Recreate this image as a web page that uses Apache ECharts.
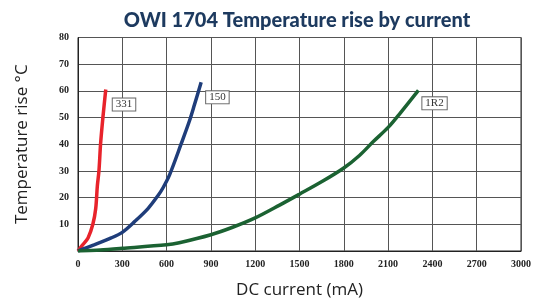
<!DOCTYPE html>
<html>
<head>
<meta charset="utf-8">
<script src="https://cdn.jsdelivr.net/npm/echarts@6/dist/echarts.min.js"></script>
<style>
  html, body { margin: 0; padding: 0; background: #fff; }
  #chart { width: 535px; height: 304px; }
</style>
</head>
<body>
<div id="chart"></div>
<script>
// DC current (mA) vs temperature rise (C)
var x331 = [0, 30, 68, 101, 120, 131, 142, 153, 169, 188];
var y331 = [0, 2.2, 4.9, 10.1, 15.9, 24.4, 30.1, 40.2, 50.2, 60.5];

var x150 = [0, 113, 225, 300, 383, 474, 541, 575, 620, 699, 755, 789, 834];
var y150 = [0, 2.4, 4.9, 7.0, 11, 15.9, 20.7, 23.6, 28.5, 40.2, 48.8, 54.9, 63.2];

var x1R2 = [0, 150, 300, 600, 686, 900, 1047, 1200, 1362, 1500, 1658, 1800, 1906, 2000, 2102, 2181, 2305];
var y1R2 = [0, 0.4, 1.0, 2.3, 3.1, 6.1, 8.9, 12.4, 17.1, 21.3, 26.2, 31.1, 35.8, 41, 46.4, 51.6, 60.2];

var seriesNames = ['331', '150', '1R2'];
var seriesColors = ['#e8232b', '#1f3d7a', '#1b6232'];
var labelOffsets = [[2, 15], [0, 15], [-1, 13]];

function makeData(xs, ys, idx) {
    var d = [];
    for (var i = 0; i < xs.length; i++) {
        if (i == xs.length - 1) {
            d.push({
                value: [xs[i], ys[i]],
                label: {
                    show: true,
                    position: 'right',
                    distance: 5,
                    offset: labelOffsets[idx],
                    formatter: seriesNames[idx],
                    fontFamily: 'Liberation Serif',
                    fontSize: 11,
                    color: '#333',
                    backgroundColor: '#fff',
                    borderColor: '#666',
                    borderWidth: 1,
                    padding: [1, 3, 0, 3]
                }
            });
        } else {
            d.push([xs[i], ys[i]]);
        }
    }
    return d;
}

var allX = [x331, x150, x1R2];
var allY = [y331, y150, y1R2];
var Series = [];
for (var k = 0; k < 3; k++) {
    Series.push({
        name: seriesNames[k],
        type: 'line',
        data: makeData(allX[k], allY[k], k),
        smooth: 0.3,
        showSymbol: true,
        symbol: 'circle',
        symbolSize: 0,
        label: { show: false },
        lineStyle: { color: seriesColors[k], width: 3.5 },
        itemStyle: { color: seriesColors[k] },
        z: 3
    });
}

var myChart = echarts.init(document.getElementById('chart'));
myChart.setOption({
    animation: false,
    title: {
        text: 'OWI 1704 Temperature rise by current',
        left: 292,
        textAlign: 'center',
        top: 6,
        textStyle: {
            fontFamily: 'Lato',
            fontWeight: 900,
            fontSize: 20,
            color: '#1d3a5f'
        }
    },
    grid: {
        left: 78,
        right: 14,
        top: 37.5,
        bottom: 48,
        show: true,
        borderColor: '#222',
        borderWidth: 1
    },
    xAxis: {
        type: 'value',
        min: 0,
        max: 3000,
        interval: 300,
        name: 'DC current (mA)',
        nameLocation: 'middle',
        nameGap: 31,
        nameTextStyle: { fontFamily: 'Open Sans', fontSize: 17, color: '#222' },
        axisLine: { show: true, lineStyle: { color: '#222' } },
        axisTick: { show: false },
        axisLabel: {
            fontFamily: 'Liberation Serif', fontWeight: 'bold', fontSize: 10, color: '#222', margin: 8,
            formatter: function (v) { return String(v); }
        },
        splitLine: { show: true, lineStyle: { color: '#555', width: 1 } }
    },
    yAxis: {
        type: 'value',
        min: 0,
        max: 80,
        interval: 10,
        name: 'Temperature rise \u00b0C',
        nameLocation: 'middle',
        nameGap: 47,
        nameTextStyle: { fontFamily: 'Open Sans', fontSize: 17, color: '#222' },
        axisLine: { show: true, lineStyle: { color: '#222' } },
        axisTick: { show: false },
        axisLabel: {
            fontFamily: 'Liberation Serif', fontWeight: 'bold', fontSize: 10, color: '#222', margin: 9,
            formatter: function (v) { return v == 0 ? '' : String(v); }
        },
        splitLine: { show: true, lineStyle: { color: '#555', width: 1 } }
    },
    series: Series
});
</script>
</body>
</html>
